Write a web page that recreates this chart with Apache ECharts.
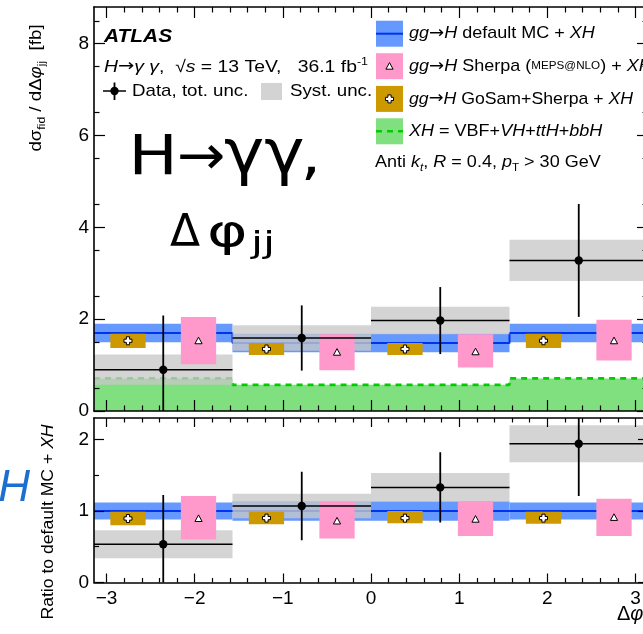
<!DOCTYPE html>
<html>
<head>
<meta charset="utf-8">
<script src="https://cdn.jsdelivr.net/npm/echarts@6/dist/echarts.min.js"></script>
<style>
html,body{margin:0;padding:0;background:#fff}
#chart{width:643px;height:634px}
</style>
</head>
<body>
<div id="chart"></div>
<script>
// ---- binning and tick labels ----
const binEdges = [-3.1416, -1.5708, 0, 1.5708, 3.1416];   // Δφjj bin edges [rad]
const xTickLabels = [-3, -2, -1, 0, 1, 2, 3];
const yTickLabelsTop = [0, 2, 4, 6, 8];
const yTickLabelsRatio = [0, 1, 2];

// ---- upper panel: dσ/dΔφjj [fb] ----
const dataXS      = [0.90, 1.59, 1.97, 3.28];
const dataTotUnc  = [1.18, 0.71, 0.73, 1.23];
const dataSystUnc = [0.33, 0.28, 0.30, 0.45];
const defaultMC    = [1.70, 1.48, 1.48, 1.70];
const defaultMCUnc = [0.20, 0.20, 0.20, 0.20];
const sherpaXS   = [1.53, 1.28, 1.29, 1.53];
const sherpaLow  = [1.02, 0.89, 0.95, 1.10];
const sherpaHigh = [2.05, 1.67, 1.67, 1.99];
const gosamXS   = [1.53, 1.35, 1.35, 1.53];
const gosamLow  = [1.37, 1.22, 1.22, 1.37];
const gosamHigh = [1.68, 1.48, 1.48, 1.68];
const xhXS = [0.71, 0.57, 0.57, 0.71];

// ---- lower panel: ratio to default MC + XH ----
const ratioData     = [0.535, 1.07, 1.33, 1.94];
const ratioTotUnc   = [0.69, 0.48, 0.49, 0.73];
const ratioSystUnc  = [0.195, 0.17, 0.20, 0.26];
const ratioMC       = [1, 1, 1, 1];
const ratioMCUnc    = [0.12, 0.135, 0.135, 0.12];
const ratioSherpa     = [0.895, 0.86, 0.885, 0.91];
const ratioSherpaLow  = [0.60, 0.615, 0.65, 0.65];
const ratioSherpaHigh = [1.21, 1.13, 1.13, 1.17];
const ratioGosam     = [0.895, 0.90, 0.90, 0.90];
const ratioGosamLow  = [0.80, 0.815, 0.83, 0.82];
const ratioGosamHigh = [0.99, 0.99, 1.00, 0.99];

// ---- styling ----
const C = {
  blueBand: '#6699ff', blueLine: '#0033ee', pink: '#ff99cc', gold: '#cc9900',
  green: '#80e080', greenLine: '#00cc00', gray: 'rgba(200,200,200,0.78)', grayLegend: '#d3d3d3'
};
const FONT = 'Liberation Sans';
const BIG = 'DejaVu Sans';
const WIDE = 1.06;         // horizontal stretch of the annotation text
const MODEL_SHIFT = 0.4;   // horizontal displacement of the model boxes from the bin centre
const MODEL_HALF = 0.2;    // half-width of the model boxes

const mid = i => (binEdges[i] + binEdges[i + 1]) / 2;
const xMin = binEdges[0], xMax = binEdges[binEdges.length - 1];

// minor tick positions
const xMinor = [];
for (let k = -15; k <= 15; k++) if (k % 5 !== 0) xMinor.push(k / 5);
const yMinorTop = [];
for (let k = 1; k <= 17; k += 2) yMinorTop.push(k / 2);
const yMinorRatio = [0.5, 1.5];

// ---- axes: for every panel a bottom/top and left/right pair, major + minor ----
const xAxes = [], yAxes = [];
const X = [], Y = [];
function xAx(g, pos, ticks, len, line, labels) {
  return {
    type: 'value', gridIndex: g, position: pos, min: xMin, max: xMax, z: 10,
    axisLine: { show: line, onZero: false, lineStyle: { color: '#000', width: 1.6 } },
    axisTick: { show: true, inside: true, length: len, customValues: ticks, lineStyle: { color: '#000', width: 1.2 } },
    axisLabel: labels ? {
      show: true, customValues: ticks, color: '#000', fontSize: 19, fontFamily: FONT, margin: 7,
      formatter: v => String(v).replace('-', '\u2212')
    } : { show: false },
    splitLine: { show: false }, minorTick: { show: false }, axisPointer: { show: false }
  };
}
function yAx(g, pos, min, max, ticks, len, line, labels) {
  return {
    type: 'value', gridIndex: g, position: pos, min, max, z: 10,
    axisLine: { show: line, onZero: false, lineStyle: { color: '#000', width: 1.6 } },
    axisTick: { show: true, inside: true, length: len, customValues: ticks, lineStyle: { color: '#000', width: 1.2 } },
    axisLabel: labels ? {
      show: true, customValues: ticks, color: '#000', fontSize: 19, fontFamily: FONT, margin: 5
    } : { show: false },
    splitLine: { show: false }, minorTick: { show: false }, axisPointer: { show: false }
  };
}
const panels = [
  { ymax: 8.8, yMajor: yTickLabelsTop, yMinor: yMinorTop, xl: 11, xs: 5.5, yl: 11, ys: 5.5, xLabels: false },
  { ymax: 2.3, yMajor: yTickLabelsRatio, yMinor: yMinorRatio, xl: 9, xs: 4.5, yl: 10, ys: 5, xLabels: true }
];
panels.forEach((p, g) => {
  X[g] = xAxes.length;
  xAxes.push(xAx(g, 'bottom', xTickLabels, p.xl, true, p.xLabels));
  xAxes.push(xAx(g, 'bottom', xMinor, p.xs, false, false));
  xAxes.push(xAx(g, 'top', xTickLabels, p.xl, true, false));
  xAxes.push(xAx(g, 'top', xMinor, p.xs, false, false));
  Y[g] = yAxes.length;
  yAxes.push(yAx(g, 'left', 0, p.ymax, p.yMajor, p.yl, true, true));
  yAxes.push(yAx(g, 'left', 0, p.ymax, p.yMinor, p.ys, false, false));
  yAxes.push(yAx(g, 'right', 0, p.ymax, p.yMajor, p.yl, true, false));
  yAxes.push(yAx(g, 'right', 0, p.ymax, p.yMinor, p.ys, false, false));
});

// ---- series builders ----
function bandSeries(g, low, high, fill, z) {
  return {
    type: 'custom', xAxisIndex: X[g], yAxisIndex: Y[g], z, clip: true, silent: true,
    data: low.map((l, i) => [binEdges[i], binEdges[i + 1], l, high[i]]),
    encode: { x: [0, 1], y: [2, 3] },
    renderItem(params, api) {
      const a = api.coord([api.value(0), api.value(3)]);
      const b = api.coord([api.value(1), api.value(2)]);
      return { type: 'rect', shape: { x: a[0], y: a[1], width: b[0] - a[0], height: b[1] - a[1] }, style: { fill } };
    }
  };
}
function stepData(vals) {
  const d = vals.map((v, i) => [binEdges[i], v]);
  d.push([binEdges[vals.length], vals[vals.length - 1]]);
  return d;
}
function stepLine(g, vals, color, z, dashed, area) {
  const s = {
    type: 'line', xAxisIndex: X[g], yAxisIndex: Y[g], z, step: 'end', symbol: 'none', silent: true,
    data: stepData(vals),
    lineStyle: { color, width: dashed ? 2.6 : 2, type: dashed ? [6, 5] : 'solid' }
  };
  if (area) s.areaStyle = { color: area, opacity: 1 };
  return s;
}
function dataSeries(g, vals, unc, z) {
  return {
    type: 'custom', xAxisIndex: X[g], yAxisIndex: Y[g], z, clip: true, silent: true,
    data: vals.map((v, i) => [binEdges[i], binEdges[i + 1], mid(i), v, v - unc[i], v + unc[i]]),
    encode: { x: [0, 1], y: [3, 4, 5] },
    renderItem(params, api) {
      const l = api.coord([api.value(0), api.value(3)]);
      const r = api.coord([api.value(1), api.value(3)]);
      const c = api.coord([api.value(2), api.value(3)]);
      const lo = api.coord([api.value(2), api.value(4)]);
      const hi = api.coord([api.value(2), api.value(5)]);
      return {
        type: 'group', children: [
          { type: 'line', shape: { x1: l[0], y1: l[1], x2: r[0], y2: r[1] }, style: { stroke: '#000', lineWidth: 1.5 } },
          { type: 'line', shape: { x1: c[0], y1: lo[1], x2: c[0], y2: hi[1] }, style: { stroke: '#000', lineWidth: 1.8 } },
          { type: 'circle', shape: { cx: c[0], cy: c[1], r: 4.2 }, style: { fill: '#000' } }
        ]
      };
    }
  };
}
function triangle(cx, cy) {
  return { type: 'polygon', shape: { points: [[cx - 3.6, cy + 3], [cx + 3.6, cy + 3], [cx, cy - 3.6]] },
    style: { fill: '#fff', stroke: '#000', lineWidth: 1 } };
}
function cross(cx, cy) {
  const a = 4, t = 1.6;
  return { type: 'polygon', shape: { points: [
    [cx - t, cy - a], [cx + t, cy - a], [cx + t, cy - t], [cx + a, cy - t], [cx + a, cy + t], [cx + t, cy + t],
    [cx + t, cy + a], [cx - t, cy + a], [cx - t, cy + t], [cx - a, cy + t], [cx - a, cy - t], [cx - t, cy - t]] },
    style: { fill: '#fff', stroke: '#000', lineWidth: 1 } };
}
function modelSeries(g, vals, low, high, shift, fill, glyph, z) {
  return {
    type: 'custom', xAxisIndex: X[g], yAxisIndex: Y[g], z, clip: true, silent: true,
    data: vals.map((v, i) => {
      const c = mid(i) + shift;
      return [c - MODEL_HALF, c + MODEL_HALF, low[i], high[i], c, v];
    }),
    encode: { x: [0, 1], y: [2, 3, 5] },
    renderItem(params, api) {
      const a = api.coord([api.value(0), api.value(3)]);
      const b = api.coord([api.value(1), api.value(2)]);
      const c = api.coord([api.value(4), api.value(5)]);
      return {
        type: 'group', children: [
          { type: 'rect', shape: { x: a[0], y: a[1], width: b[0] - a[0], height: b[1] - a[1] }, style: { fill } },
          glyph(c[0], c[1])
        ]
      };
    }
  };
}
const plus = (v, u) => v.map((x, i) => x + u[i]);
const minus = (v, u) => v.map((x, i) => x - u[i]);

const series = [
  // upper panel
  stepLine(0, xhXS, C.greenLine, 1, true, C.green),
  bandSeries(0, minus(defaultMC, defaultMCUnc), plus(defaultMC, defaultMCUnc), C.blueBand, 2),
  stepLine(0, defaultMC, C.blueLine, 3, false, null),
  bandSeries(0, minus(dataXS, dataSystUnc), plus(dataXS, dataSystUnc), C.gray, 4),
  modelSeries(0, sherpaXS, sherpaLow, sherpaHigh, MODEL_SHIFT, C.pink, triangle, 5),
  modelSeries(0, gosamXS, gosamLow, gosamHigh, -MODEL_SHIFT, C.gold, cross, 6),
  dataSeries(0, dataXS, dataTotUnc, 7),
  // ratio panel
  bandSeries(1, minus(ratioMC, ratioMCUnc), plus(ratioMC, ratioMCUnc), C.blueBand, 2),
  stepLine(1, ratioMC, C.blueLine, 3, false, null),
  bandSeries(1, minus(ratioData, ratioSystUnc), plus(ratioData, ratioSystUnc), C.gray, 4),
  modelSeries(1, ratioSherpa, ratioSherpaLow, ratioSherpaHigh, MODEL_SHIFT, C.pink, triangle, 5),
  modelSeries(1, ratioGosam, ratioGosamLow, ratioGosamHigh, -MODEL_SHIFT, C.gold, cross, 6),
  dataSeries(1, ratioData, ratioTotUnc, 7)
];

// ---- annotation text and legend ----
const richBase = {
  i: { fontStyle: 'italic', fontSize: 17, fontFamily: FONT, lineHeight: 22 },
  ar: { fontSize: 17, fontFamily: BIG, lineHeight: 22 },
  sub: { fontSize: 11, fontFamily: FONT, lineHeight: 11, verticalAlign: 'bottom' },
  isub: { fontSize: 11, fontStyle: 'italic', fontFamily: FONT, lineHeight: 11, verticalAlign: 'bottom' },
  sup: { fontSize: 11, fontFamily: FONT, lineHeight: 11, verticalAlign: 'top' },
  sc: { fontSize: 11, fontFamily: FONT, lineHeight: 22 }
};
function txt(x, y, text, opts, el) {
  return Object.assign({
    type: 'text', x, y, z: 50, silent: true, scaleX: WIDE,
    style: Object.assign({
      text, fill: '#000', fontSize: 17, fontFamily: FONT, lineHeight: 22,
      align: 'left', verticalAlign: 'middle', rich: richBase
    }, opts || {})
  }, el || {});
}
const bigTxt = (x, y, text, size, sx) =>
  txt(x, y, text, { fontSize: size, fontFamily: BIG, lineHeight: size + 6 }, { scaleX: sx });

const legX = 376, legW = 27, legH = 26;
const legRows = [20.7, 53.2, 85.9, 118.3];
const legendGraphics = [];
// Data marker
legendGraphics.push(
  { type: 'line', z: 50, shape: { x1: 103, y1: 91, x2: 126, y2: 91 }, style: { stroke: '#000', lineWidth: 1.5 } },
  { type: 'line', z: 50, shape: { x1: 114.5, y1: 82.5, x2: 114.5, y2: 100 }, style: { stroke: '#000', lineWidth: 1.8 } },
  { type: 'circle', z: 50, shape: { cx: 114.5, cy: 91, r: 4.2 }, style: { fill: '#000' } },
  { type: 'rect', z: 50, shape: { x: 261, y: 83, width: 21, height: 17 }, style: { fill: C.grayLegend } }
);
// model swatches
legendGraphics.push(
  { type: 'rect', z: 50, shape: { x: legX, y: legRows[0], width: legW, height: legH }, style: { fill: C.blueBand } },
  { type: 'line', z: 51, shape: { x1: legX, y1: legRows[0] + legH / 2, x2: legX + legW, y2: legRows[0] + legH / 2 }, style: { stroke: C.blueLine, lineWidth: 2 } },
  { type: 'rect', z: 50, shape: { x: legX, y: legRows[1], width: legW, height: legH }, style: { fill: C.pink } },
  Object.assign(triangle(legX + legW / 2, legRows[1] + legH / 2), { z: 51 }),
  { type: 'rect', z: 50, shape: { x: legX, y: legRows[2], width: legW, height: legH }, style: { fill: C.gold } },
  Object.assign(cross(legX + legW / 2, legRows[2] + legH / 2), { z: 51 }),
  { type: 'rect', z: 50, shape: { x: legX, y: legRows[3], width: legW, height: legH }, style: { fill: C.green } },
  { type: 'line', z: 51, shape: { x1: legX, y1: legRows[3] + legH / 2, x2: legX + legW, y2: legRows[3] + legH / 2 }, style: { stroke: C.greenLine, lineWidth: 2.6, lineDash: [6, 5] } }
);

const graphics = legendGraphics.concat([
  txt(104, 36.5, 'ATLAS', { fontSize: 19, fontWeight: 'bold', fontStyle: 'italic' }, { scaleX: 1.1 }),
  txt(104, 67, '{i|H}{ar|\u2192}{i|\u03b3 \u03b3},  \u221a{i|s} = 13 TeV,   36.1 fb{sup|-1}', null, { scaleX: 1.14 }),
  txt(132, 91, 'Data, tot. unc.', null, { scaleX: 1.1 }),
  txt(290, 91, 'Syst. unc.', null, { scaleX: 1.1 }),
  txt(409, legRows[0] + legH / 2, '{i|gg}{ar|\u2192}{i|H} default MC + {i|XH}'),
  txt(409, legRows[1] + legH / 2, '{i|gg}{ar|\u2192}{i|H} Sherpa ({sc|MEPS@NLO}) + {i|XH}'),
  txt(409, legRows[2] + legH / 2, '{i|gg}{ar|\u2192}{i|H} GoSam+Sherpa + {i|XH}', null, { scaleX: 1.04 }),
  txt(409, legRows[3] + legH / 2, '{i|XH} = VBF+{i|VH}+{i|ttH}+{i|bbH}'),
  txt(375, 162, 'Anti {i|k}{isub|t}, {i|R} = 0.4, {i|p}{sub|T} > 30 GeV'),
  // big panel title
  bigTxt(128.5, 159.3, 'H', 55, 1.19),
  bigTxt(177, 159.3, '\u2192', 55, 1.05),
  bigTxt(224, 156.8, '\u03b3\u03b3', 62, 1.1),
  bigTxt(300.5, 159.3, ',', 55, 1.19),
  bigTxt(170, 234.8, '\u0394', 44, 1),
  bigTxt(207, 234.8, '\u03c6', 44, 1.4),
  bigTxt(251, 245.3, 'jj', 30, 1.45),
  // partially visible label at the left edge
  txt(30, 489, 'H', { fontSize: 44, fontStyle: 'italic', fill: '#1a6fd1', align: 'right', lineHeight: 48 }, { scaleX: 1 }),
  // axis titles
  txt(36, 88, 'd\u03c3{sub|fid} / d\u0394{i|\u03c6}{sub|jj}  [fb]', { align: 'center' }, { rotation: Math.PI / 2, scaleX: 1.1 }),
  txt(48.5, 522, 'Ratio to default MC + {r|XH}', {
    align: 'center', fontSize: 16, lineHeight: 20,
    rich: { r: { fontStyle: 'italic', fontSize: 16, fontFamily: FONT, lineHeight: 20 } }
  }, { rotation: Math.PI / 2, scaleX: 1.1 }),
  txt(617, 614, '\u0394{i|\u03c6}{sub|jj}', {
    fontSize: 20, lineHeight: 24,
    rich: {
      i: { fontStyle: 'italic', fontSize: 20, fontFamily: FONT, lineHeight: 24 },
      sub: { fontSize: 12, fontFamily: FONT, lineHeight: 12, verticalAlign: 'bottom' }
    }
  }, { scaleX: 1 })
]);

const chart = echarts.init(document.getElementById('chart'), null, { renderer: 'canvas' });
chart.setOption({
  animation: false,
  backgroundColor: '#fff',
  grid: [
    { left: 94, top: 7, width: 554, height: 404, outerBoundsMode: 'none', containLabel: false },
    { left: 94, top: 418, width: 554, height: 164.5, outerBoundsMode: 'none', containLabel: false }
  ],
  xAxis: xAxes,
  yAxis: yAxes,
  series,
  graphic: graphics
});
</script>
</body>
</html>
